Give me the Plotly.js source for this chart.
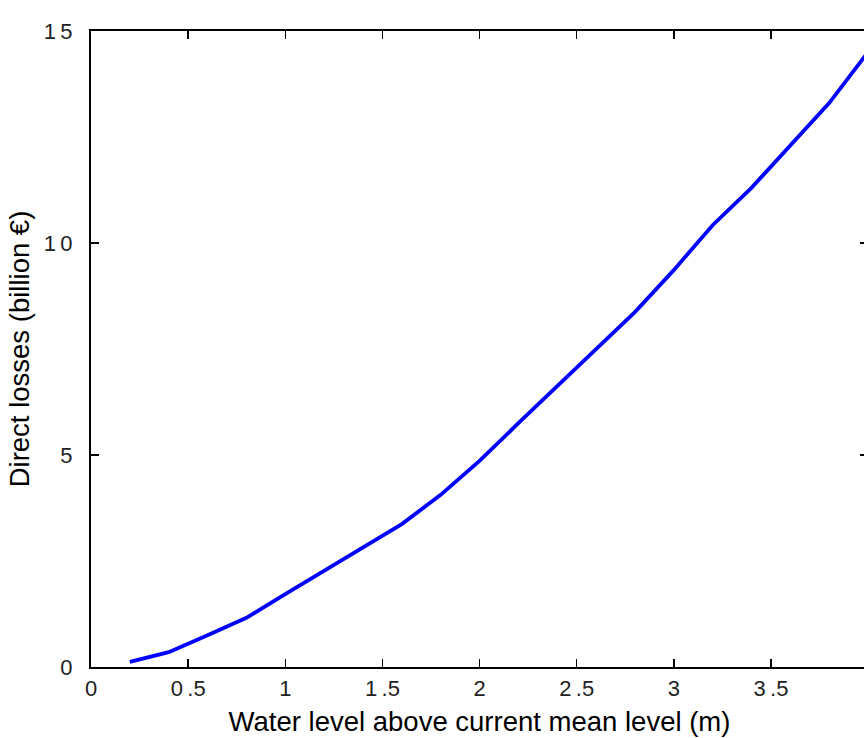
<!DOCTYPE html>
<html>
<head>
<meta charset="utf-8">
<script src="https://cdn.plot.ly/plotly-3.0.1.min.js"></script>
<style>
html,body{margin:0;padding:0;overflow:hidden;background:#fff;width:864px;height:738px;}
#chart{width:872px;height:738px;}
</style>
</head>
<body>
<div id="chart"></div>
<script>
const waterLevel = [0.2,0.4,0.6,0.8,1.0,1.2,1.4,1.6,1.8,2.0,2.2,2.4,2.6,2.8,3.0,3.2,3.4,3.6,3.8,4.0];
const directLosses = [0.12,0.35,0.75,1.16,1.72,2.27,2.82,3.37,4.06,4.86,5.75,6.63,7.48,8.37,9.36,10.42,11.3,12.3,13.3,14.5];
const xTickVals = [0,0.5,1,1.5,2,2.5,3,3.5,4];
const xTickText = ['0','0\u2009.5','1','1\u2009.5','2','2\u2009.5','3','3\u2009.5','4'];
const yTickVals = [0,5,10,15];
const yTickText = ['0','5','1\u20090','1\u20095'];

const tickFont = {family:'"Liberation Sans Narrow", "Liberation Sans", Arial, sans-serif', size:22, color:'#222'};
const titleFont = {family:'"Liberation Sans", Arial, sans-serif', size:27.5, color:'#000'};

Plotly.newPlot('chart', [{
  x: waterLevel, y: directLosses, type:'scatter', mode:'lines',
  line:{color:'#0000ff', width:3.8}, showlegend:false, cliponaxis:false
}], {
  width:872, height:738,
  margin:{l:91, r:4, t:31, b:71},
  paper_bgcolor:'#fff', plot_bgcolor:'#fff',
  xaxis:{
    range:[0,4], tickvals:xTickVals, ticktext:xTickText,
    showgrid:false, zeroline:false, showline:true, linecolor:'#000', linewidth:2,
    mirror:'ticks', ticks:'inside', ticklen:8, tickwidth:1.5, tickcolor:'#000',
    tickfont:tickFont, ticklabelstandoff:1,
    title:{text:'Water level above current mean level (m)', font:titleFont, standoff:11}
  },
  yaxis:{
    range:[0,15], tickvals:yTickVals, ticktext:yTickText,
    showgrid:false, zeroline:false, showline:true, linecolor:'#000', linewidth:2,
    mirror:'ticks', ticks:'inside', ticklen:8, tickwidth:1.5, tickcolor:'#000',
    tickfont:tickFont, ticklabelstandoff:12,
    title:{text:'Direct losses (billion €)', font:titleFont, standoff:6}
  }
}, {displayModeBar:false, staticPlot:true});
</script>
</body>
</html>
